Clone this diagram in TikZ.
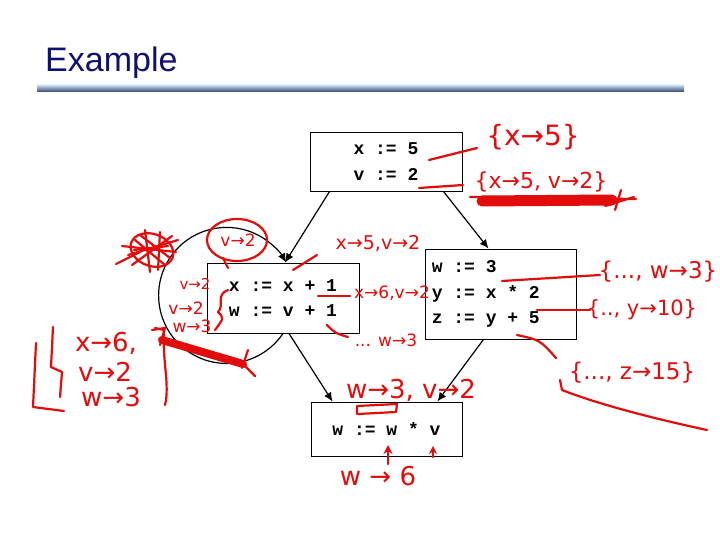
\documentclass[tikz,border=0pt]{standalone}
\usepackage{fontspec}
\setmainfont{Liberation Sans}
\newfontfamily\codefont{Liberation Mono}[WordSpace={1,0,0}]
\newfontfamily\handfont{DejaVu Sans}
\usetikzlibrary{arrows.meta}
\definecolor{hred}{RGB}{226,12,12}
\definecolor{titleblue}{RGB}{16,16,110}
\definecolor{rulelight}{RGB}{205,225,235}
\definecolor{ruledark}{RGB}{45,65,120}
\begin{document}
\begin{tikzpicture}[x=1pt,y=-1pt,
  stmt/.style={draw=black, line width=0.9pt, inner sep=0pt, font=\codefont\bfseries\fontsize{18}{25.5}\selectfont, align=center},
  codetext/.style={inner sep=0pt, font=\codefont\bfseries\fontsize{18}{25.5}\selectfont, align=left},
  flow/.style={line width=1.2pt, -{Latex[length=9pt,width=8pt]}},
  ink/.style={draw=hred, line width=2.2pt, line cap=round, line join=round},
  heavy/.style={draw=hred, line width=9pt, line cap=round},
  note/.style={text=hred, inner sep=0pt, font=\handfont\fontsize{#1}{#1}\selectfont},
  note/.default=20
]
\fill[white] (0,0) rectangle (720,540);
\useasboundingbox (0,0) rectangle (720,540);

% title
\node[anchor=base west, inner sep=0pt, text=titleblue, font=\fontsize{34}{40}\selectfont] (title) at (45,72) {Example};
\shade[top color=rulelight, bottom color=ruledark] (37,85) rectangle (684,92);

% blocks
\node[stmt, minimum width=152pt, minimum height=59pt] (A) at (386,161.5) {x := 5\\v := 2};
\node[stmt, minimum width=152pt, minimum height=70pt] (B) at (283,298) {x := x + 1\\w := v + 1};
\node[stmt, minimum width=151pt, minimum height=90pt] (C) at (500.5,294) {};
\node[codetext, anchor=west] (Ctext) at ([xshift=7pt]C.west) {w := 3\\y := x * 2\\z := y + 5};
\node[stmt, minimum width=151pt, minimum height=54pt] (D) at (386.5,429) {w := w * v};

% control flow
\draw[flow] ([xshift=20pt]A.south west) -- ([xshift=2pt]B.north);
\draw[flow] ([xshift=-19pt]A.south east) -- ([xshift=-12pt]C.north);
\draw[flow] ([xshift=6pt]B.south) -- ([xshift=22pt]D.north west);
\draw[flow] ([xshift=-17pt]C.south) -- ([xshift=-25pt]D.north east);
\draw[flow] (B.south) arc[start angle=34, end angle=331, radius=68];

% annotations near A
\draw[ink] (429,160) -- (477,148);
\node[note=28] (n1) at (533,137) {\{x→5\}};
\draw[ink] (419,188) -- (463,185);
\node[note=22] (n2) at (541,182) {\{x→5, v→2\}};
\draw[heavy, line width=11pt] (482,201) -- (612,200);
\draw[ink] (470,197) -- (636,199);
\draw[ink] (621,190) -- (615,210);
\draw[ink] (605,206) -- (634,197);

% annotations near B
\draw[ink] (293,270) -- (317,255);
\node[note=19] (n3) at (378,244) {x→5,v→2};
\draw[ink] (318,296) -- (350,296);
\node[note=17] (n4) at (392,293) {x→6,v→2};
\draw[ink] (327,325) .. controls (335,333) .. (348,337);
\node[note=17] (n5) at (386,340) {... w→3};

\draw[ink] (237,240) ellipse[x radius=30, y radius=21];
\node[note=17] (n6) at (238,240) {v→2};
\draw[ink] (223,258) -- (228,268);

% scribbled-out blob
\draw[ink] (152,250) ellipse[x radius=22, y radius=16, rotate=-20];
\draw[ink] (135,240) -- (165,265);
\draw[ink] (140,235) -- (170,258);
\draw[ink] (128,255) -- (178,240);
\draw[ink] (132,265) -- (172,236);
\draw[ink] (145,230) -- (150,272);
\draw[ink] (160,232) -- (158,270);
\draw[ink] (116,264) -- (140,252);
\draw[ink] (122,246) -- (176,252);
\draw[ink] (134,250) -- (168,246);

\node[note=15] (n7) at (195,284) {v→2};
\node[note=17] (n8) at (186,308) {v→2};
\node[note=17] (n9) at (192,326) {w→3};
\draw[ink] (228,290) .. controls (215,295) and (225,305) .. (218,312) .. controls (224,318) .. (215,330);

\draw[heavy, line width=8pt] (162,340) -- (243,364);
\draw[ink] (243,364) -- (255,376);
\draw[ink] (248,350) -- (242,368);
\draw[ink] (152,330) -- (165,328) -- (160,345);

% left summary
\draw[ink] (36,343) -- (33,407) -- (64,411);
\draw[ink] (53,327) -- (51,367) -- (62,372) -- (60,397);
\node[note=26] (n10) at (106,343) {x→6,};
\node[note=26] (n11) at (105,372) {v→2};
\node[note=26] (n12) at (111,397) {w→3};
\draw[ink] (155,328) -- (164,330) .. controls (162,360) and (170,385) .. (165,405);

% annotations near C
\draw[ink] (502,281) -- (600,275);
\node[note=23] (n13) at (658,272) {\{..., w→3\}};
\draw[ink] (537,310) -- (590,310);
\node[note=21] (n14) at (642,310) {\{.., y→10\}};
\draw[ink] (517,335) .. controls (540,340) .. (556,358);
\node[note=23] (n15) at (632,373) {\{..., z→15\}};
\draw[ink] (560,380) -- (562,390) .. controls (600,405) and (660,420) .. (707,430);

% annotations near D
\node[note=26] (n16) at (411,390) {w→3, v→2};
\draw[ink] (357,414) -- (357,406) -- (397,404) -- (396,412) -- (358,414);
\draw[ink, line width=2.6pt, -{Stealth[length=9pt,width=9pt]}] (388,464) -- (388,445);
\draw[ink, line width=2.6pt, -{Stealth[length=8pt,width=8pt]}] (433,457) -- (433,446);
\node[note=26] (n17) at (378,476) {w → 6};
\end{tikzpicture}
\end{document}
